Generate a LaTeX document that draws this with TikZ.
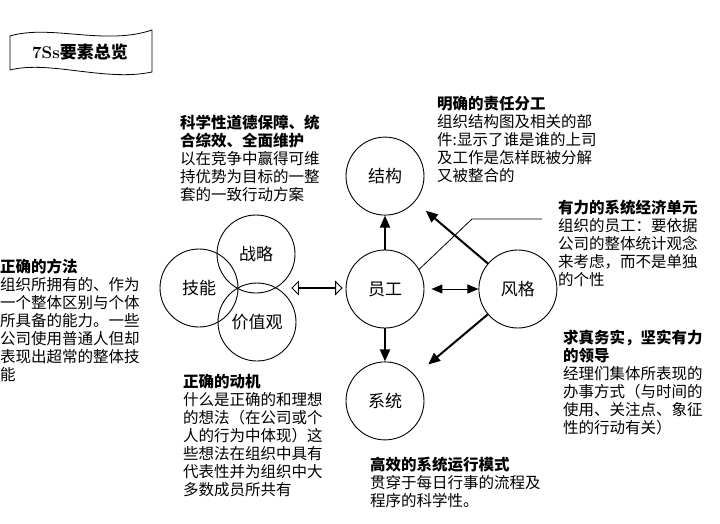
\documentclass[tikz,border=0pt]{standalone}
\usepackage{fontspec}
\setmainfont{Noto Sans CJK SC}
\newfontfamily\lmfont{Latin Modern Roman}
\usetikzlibrary{arrows.meta, positioning, shapes.arrows}

\begin{document}
\begin{tikzpicture}[
    x=1pt, y=-1pt,
    elem/.style={circle, draw, line width=0.9pt, minimum size=78pt, inner sep=0pt, font=\fontsize{17}{20}\selectfont},
    note/.style={anchor=north west, inner sep=0pt, align=left, font=\fontsize{15.5}{18}\selectfont},
    arrow/.style={-{Triangle[length=12pt, width=10pt]}, line width=2pt},
    darrow/.style={{Triangle[length=11pt, width=9pt]}-{Triangle[length=11pt, width=9pt]}, line width=1pt}
]
\useasboundingbox (0,0) rectangle (720,524);

% title banner
\draw[line width=0.8pt] (10,36) .. controls (50,24) and (105,46) .. (152,30) -- (152,72)
    .. controls (105,82) and (50,60) .. (10,70) -- cycle;
\node[font=\fontsize{17}{20}\selectfont] (title) at (80,52) {{\lmfont\bfseries 7Ss}\textbf{要素总览}};

% left cluster
\node[elem] (jn) at (199,288) {技能};
\node[elem] (zl) at (256,254) {战略};
\node[elem] (jzg) at (257,322) {价值观};
\node[double arrow, draw, line width=0.8pt, minimum height=50pt, minimum width=8pt,
      double arrow head extend=6pt, inner sep=0pt] (link) at (317,288) {};

% right cluster
\node[elem] (yg) at (385,289) {员工};
\node[elem, above=34pt of yg] (jg) {结构};
\node[elem, below=33pt of yg] (xt) {系统};
\node[elem, right=54pt of yg] (fg) {风格};

\draw[arrow] (yg) -- (jg);
\draw[arrow] (yg) -- (xt);
\draw[darrow, shorten <=7pt] (yg) -- (fg);
\draw[arrow] (fg) -- (jg) [shorten >=14pt];
\draw[arrow, shorten >=17pt] (fg) -- (xt);

% callout
\coordinate (bend) at (472,219);
\coordinate (tail) at (542,219);
\draw[line width=0.8pt] (yg.30) -- (bend) -- (tail);

% notes
\node[note] (n1) at (180,115) {\textbf{科学性道德保障、统}\\\textbf{合综效、全面维护}\\以在竞争中赢得可维\\持优势为目标的一整\\套的一致行动方案};
\node[note] (n2) at (437,96) {\textbf{明确的责任分工}\\组织结构图及相关的部\\件:显示了谁是谁的上司\\及工作是怎样既被分解\\又被整合的};
\node[note] (n3) at (558,200) {\textbf{有力的系统经济单元}\\组织的员工：要依据\\公司的整体统计观念\\来考虑，而不是单独\\的个性};
\node[note] (n4) at (0,259) {\textbf{正确的方法}\\组织所拥有的、作为\\一个整体区别与个体\\所具备的能力。一些\\公司使用普通人但却\\表现出超常的整体技\\能};
\node[note] (n5) at (183,374) {\textbf{正确的动机}\\什么是正确的和理想\\的想法（在公司或个\\人的行为中体现）这\\些想法在组织中具有\\代表性并为组织中大\\多数成员所共有};
\node[note] (n6) at (370,457) {\textbf{高效的系统运行模式}\\贯穿于每日行事的流程及\\程序的科学性。};
\node[note] (n7) at (563,330) {\textbf{求真务实，坚实有力}\\\textbf{的领导}\\经理们集体所表现的\\办事方式（与时间的\\使用、关注点、象征\\性的行动有关）};

\end{tikzpicture}
\end{document}
